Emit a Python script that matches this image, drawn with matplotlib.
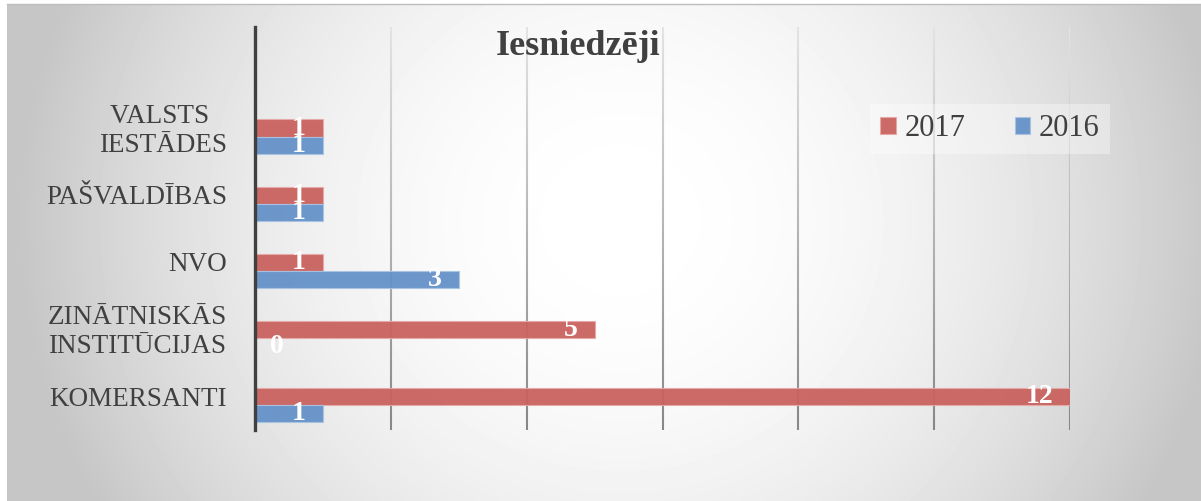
import numpy as np
import matplotlib
matplotlib.use("Agg")
import matplotlib.pyplot as plt
from matplotlib.collections import LineCollection
from matplotlib.lines import Line2D
import matplotlib.transforms as mtransforms

categories = ["KOMERSANTI", "ZINĀTNISKĀS\nINSTITŪCIJAS", "NVO", "PAŠVALDĪBAS", "VALSTS \nIESTĀDES"]
vals_2017 = [12, 5, 1, 1, 1]
vals_2016 = [1, 0, 3, 1, 1]
series_names = ["2017", "2016"]
title = "Iesniedzēji"

RED = "#c9625f"
BLUE = "#6592c9"
TEXT = "#404040"
SERIF = ["Liberation Serif", "DejaVu Serif"]

W, H = 1201, 501
fig = plt.figure(figsize=(W / 100, H / 100), dpi=100, facecolor="white")

# radial gradient backdrop
bg = fig.add_axes([7 / W, 0, (W - 7) / W, (H - 4) / H], zorder=-5)
yy, xx = np.mgrid[4:H, 7:W]
d = np.hypot(xx - 620, (yy - 220) * 1.05) / 600.0
shade = 255 - 57 * np.clip(d, 0, 1) ** 2
bg.imshow(shade, cmap="gray", vmin=0, vmax=255, aspect="auto",
          extent=[0, 1, 0, 1], interpolation="bilinear")
bg.axis("off")
fig.add_artist(Line2D([7 / W, 1], [1 - 3.5 / H, 1 - 3.5 / H], color="#bdbdbd", lw=1))

ax = fig.add_axes([255 / W, (H - 430) / H, 815 / W, 403 / H])
ax.set_facecolor("none")

y = np.arange(len(categories))
bh = 0.26
ax.set_xlim(0, 12)
ax.set_ylim(-0.373, 5.64)

# gridlines with a vertical fade (light at top, darker at bottom)
ax.set_xticks(np.arange(0, 13, 2))
y0, y1 = ax.get_ylim()
ys = np.linspace(y0, y1, 60)
for gx in ax.get_xticks()[1:]:
    segs = [[(gx, ys[k]), (gx, ys[k + 1])] for k in range(len(ys) - 1)]
    t = np.linspace(0, 1, len(segs))
    g = 0.53 + 0.36 * t
    cols = np.column_stack([g, g, g, np.ones_like(g)])
    ax.add_collection(LineCollection(segs, colors=cols, linewidths=1.5, zorder=1))

b1 = ax.barh(y + bh / 2, vals_2017, height=bh, color=RED, edgecolor="#e6aaa8",
             linewidth=0.8, alpha=0.95, zorder=2, label=series_names[0])
b2 = ax.barh(y - bh / 2, vals_2016, height=bh, color=BLUE, edgecolor="#a9c3e3",
             linewidth=0.8, alpha=0.95, zorder=2, label=series_names[1])

for bars, vals in ((b1, vals_2017), (b2, vals_2016)):
    for rect, v in zip(bars, vals):
        cy = rect.get_y() + rect.get_height() / 2
        if v == 0:
            off = mtransforms.offset_copy(ax.transData, fig=fig, x=15, y=0, units="dots")
            ha = "left"
        else:
            off = mtransforms.offset_copy(ax.transData, fig=fig, x=-17, y=0, units="dots")
            ha = "right"
        ax.text(v, cy, str(v), transform=off, ha=ha, va="center", color="white",
                fontsize=20, fontweight="bold", family=SERIF, zorder=3)

for s in ("top", "right", "bottom"):
    ax.spines[s].set_visible(False)
ax.spines["left"].set_color(TEXT)
ax.spines["left"].set_linewidth(2.4)
ax.set_xticks([])
ax.set_yticks([])

lab_tr = mtransforms.offset_copy(ax.get_yaxis_transform(), fig=fig, x=-28, y=6, units="dots")
for yi, name in zip(y, categories):
    ax.text(0, yi, name, transform=lab_tr, ha="right", va="center", multialignment="center",
            fontsize=19.5, color=TEXT, family=SERIF, linespacing=1.2)

fig.text(578 / W, 1 - 55 / H, title, ha="center", va="baseline", fontsize=26,
         fontweight="bold", color=TEXT, family=SERIF)

leg = fig.legend(handles=[b1, b2], loc="center", bbox_to_anchor=(990 / W, 1 - 129 / H),
                 ncol=2, frameon=True, fancybox=False, fontsize=22,
                 prop={"family": SERIF, "size": 22}, handlelength=0.5, handleheight=0.5,
                 handletextpad=0.3, columnspacing=1.6, borderpad=0.35)
leg.get_frame().set_facecolor("white")
leg.get_frame().set_alpha(0.35)
leg.get_frame().set_edgecolor("none")
for t in leg.get_texts():
    t.set_color(TEXT)

fig.savefig("out.png", dpi=100, facecolor="white")
